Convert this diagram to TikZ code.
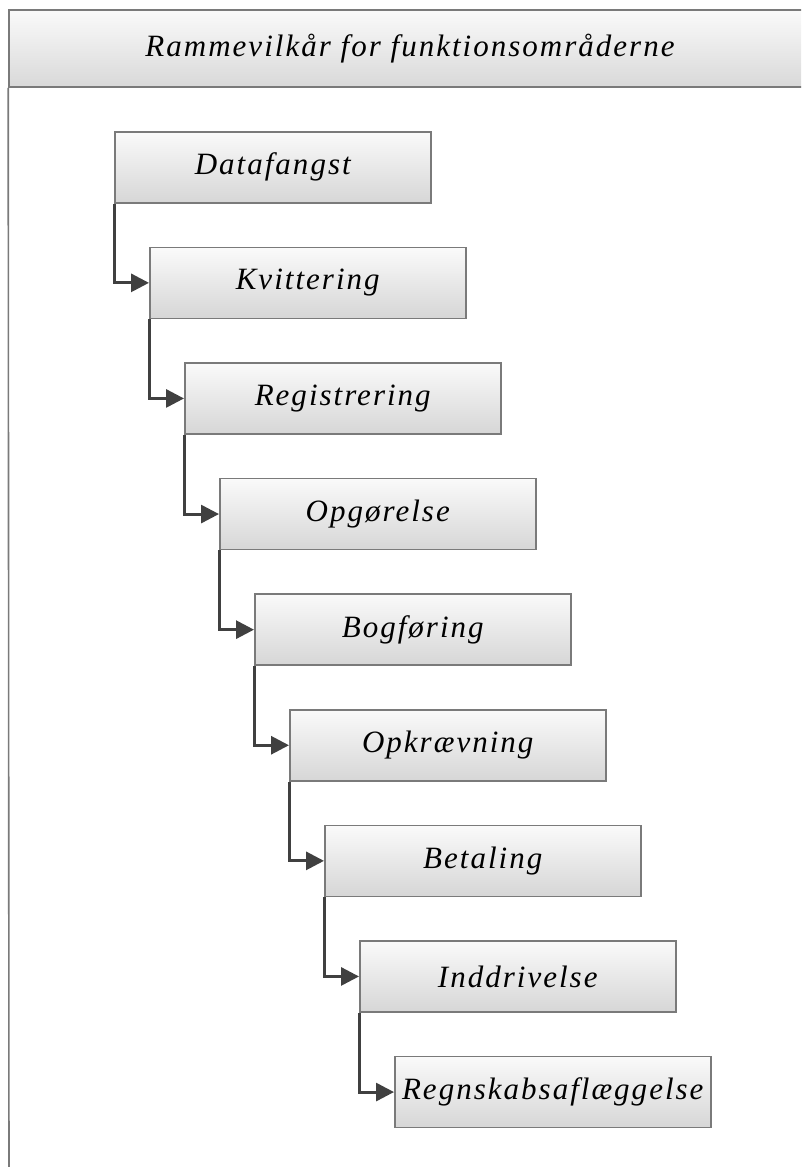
\documentclass[tikz,border=0pt]{standalone}
\usepackage{fontspec}
\setmainfont{Liberation Serif}
\usetikzlibrary{arrows.meta}
\definecolor{edgegray}{HTML}{7A7A7A}
\definecolor{arrowgray}{HTML}{404040}
\begin{document}
\begin{tikzpicture}[x=1pt,y=-1pt,
  labelfont/.style={font=\fontsize{31}{37}\selectfont\itshape\addfontfeature{LetterSpace=6.5}},
  stagebox/.style={draw=edgegray, line width=1.5pt, top color=white!98!black, bottom color=white!84!black,
    minimum width=316pt, minimum height=71pt, inner sep=0pt, anchor=north west, labelfont},
  headbox/.style={draw=edgegray, line width=1.6pt, top color=white!98!black, bottom color=white!85!black,
    minimum width=802pt, minimum height=77pt, inner sep=0pt, labelfont},
  link/.style={draw=arrowgray, line width=3pt, -{Triangle[length=18pt,width=18pt]}},
  frameline/.style={draw=edgegray, line width=1.6pt}]
\useasboundingbox (0,0) rectangle (801,1167);
\clip (0,0) rectangle (801,1167);
\fill[white] (0,0) rectangle (801,1167);
\node[headbox] (head) at (410,48.5) {Rammevilkår for funktionsområderne};
\coordinate (frameend) at (9,1190);
\draw[frameline] (head.south west) -- (frameend);
\node[stagebox] (b1) at (114,131) {Datafangst};
\node[stagebox] (b2) at (149,246.6) {Kvittering};
\node[stagebox] (b3) at (184,362.2) {Registrering};
\node[stagebox] (b4) at (219,477.8) {Opgørelse};
\node[stagebox] (b5) at (254,593.4) {Bogføring};
\node[stagebox] (b6) at (289,709) {Opkrævning};
\node[stagebox] (b7) at (324,824.6) {Betaling};
\node[stagebox] (b8) at (359,940.2) {Inddrivelse};
\node[stagebox] (b9) at (394,1055.8) {Regnskabsaflæggelse};
\foreach \a/\b in {b1/b2,b2/b3,b3/b4,b4/b5,b5/b6,b6/b7,b7/b8,b8/b9}
  \draw[link] (\a.south west) |- (\b.west);
\end{tikzpicture}
\end{document}
